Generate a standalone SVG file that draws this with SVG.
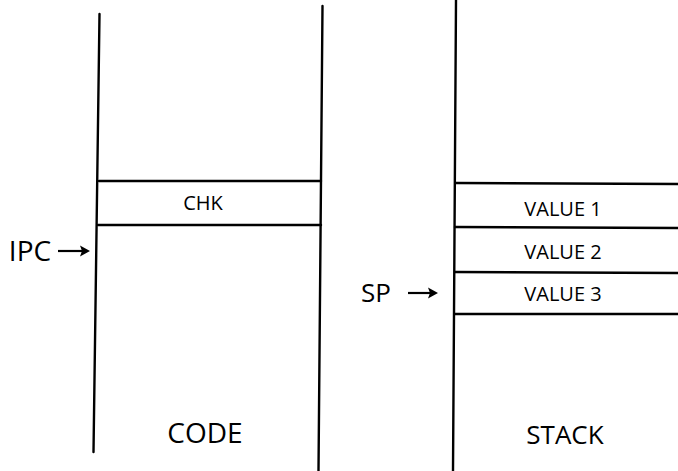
<svg xmlns="http://www.w3.org/2000/svg" width="678" height="471" viewBox="0 0 678 471">
<style>
.ln{stroke:#000;stroke-width:2.4;fill:none;stroke-linecap:round}
.t{font-family:"Open Sans","Liberation Sans",sans-serif;fill:#000;text-anchor:middle;dominant-baseline:central}
.big{font-size:26px}
.mid{font-size:20px}
.ar{stroke:#000;stroke-width:2.2;fill:none}
.ah{fill:#000;stroke:none}
</style>
<rect width="678" height="471" fill="#fff"/>
<g id="code">
<line class="ln" x1="99.5" y1="14" x2="93.5" y2="452"/>
<line class="ln" x1="322.5" y1="6" x2="318.5" y2="471"/>
<text class="t" style="font-size:28px" x="205" y="432">CODE</text>
</g>
<g id="chk">
<line class="ln" x1="99" y1="181" x2="321" y2="181"/>
<line class="ln" x1="98" y1="225" x2="321" y2="225"/>
<text class="t mid" x="203" y="202">CHK</text>
</g>
<g id="ipc">
<text class="t" style="font-size:28px" x="30" y="250">IPC</text>
<path class="ar" d="M58 251H84"/>
<path class="ah" d="M90 251L80 245.5L82 251L80 256.5Z"/>
</g>
<g id="stack">
<line class="ln" x1="456" y1="0" x2="453" y2="471"/>
<text class="t big" x="565" y="434">STACK</text>
</g>
<g id="value1">
<line class="ln" x1="456" y1="183" x2="678" y2="184"/>
<text class="t mid" x="563" y="208">VALUE 1</text>
</g>
<g id="value2">
<line class="ln" x1="455" y1="227" x2="678" y2="228"/>
<text class="t mid" x="563" y="251">VALUE 2</text>
</g>
<g id="value3">
<line class="ln" x1="455" y1="272" x2="678" y2="273"/>
<line class="ln" x1="455" y1="314" x2="678" y2="314"/>
<text class="t mid" x="563" y="293">VALUE 3</text>
</g>
<g id="sp">
<text class="t big" x="376" y="292">SP</text>
<path class="ar" d="M408 293H432"/>
<path class="ah" d="M438 293L428 287.5L430 293L428 298.5Z"/>
</g>
</svg>
